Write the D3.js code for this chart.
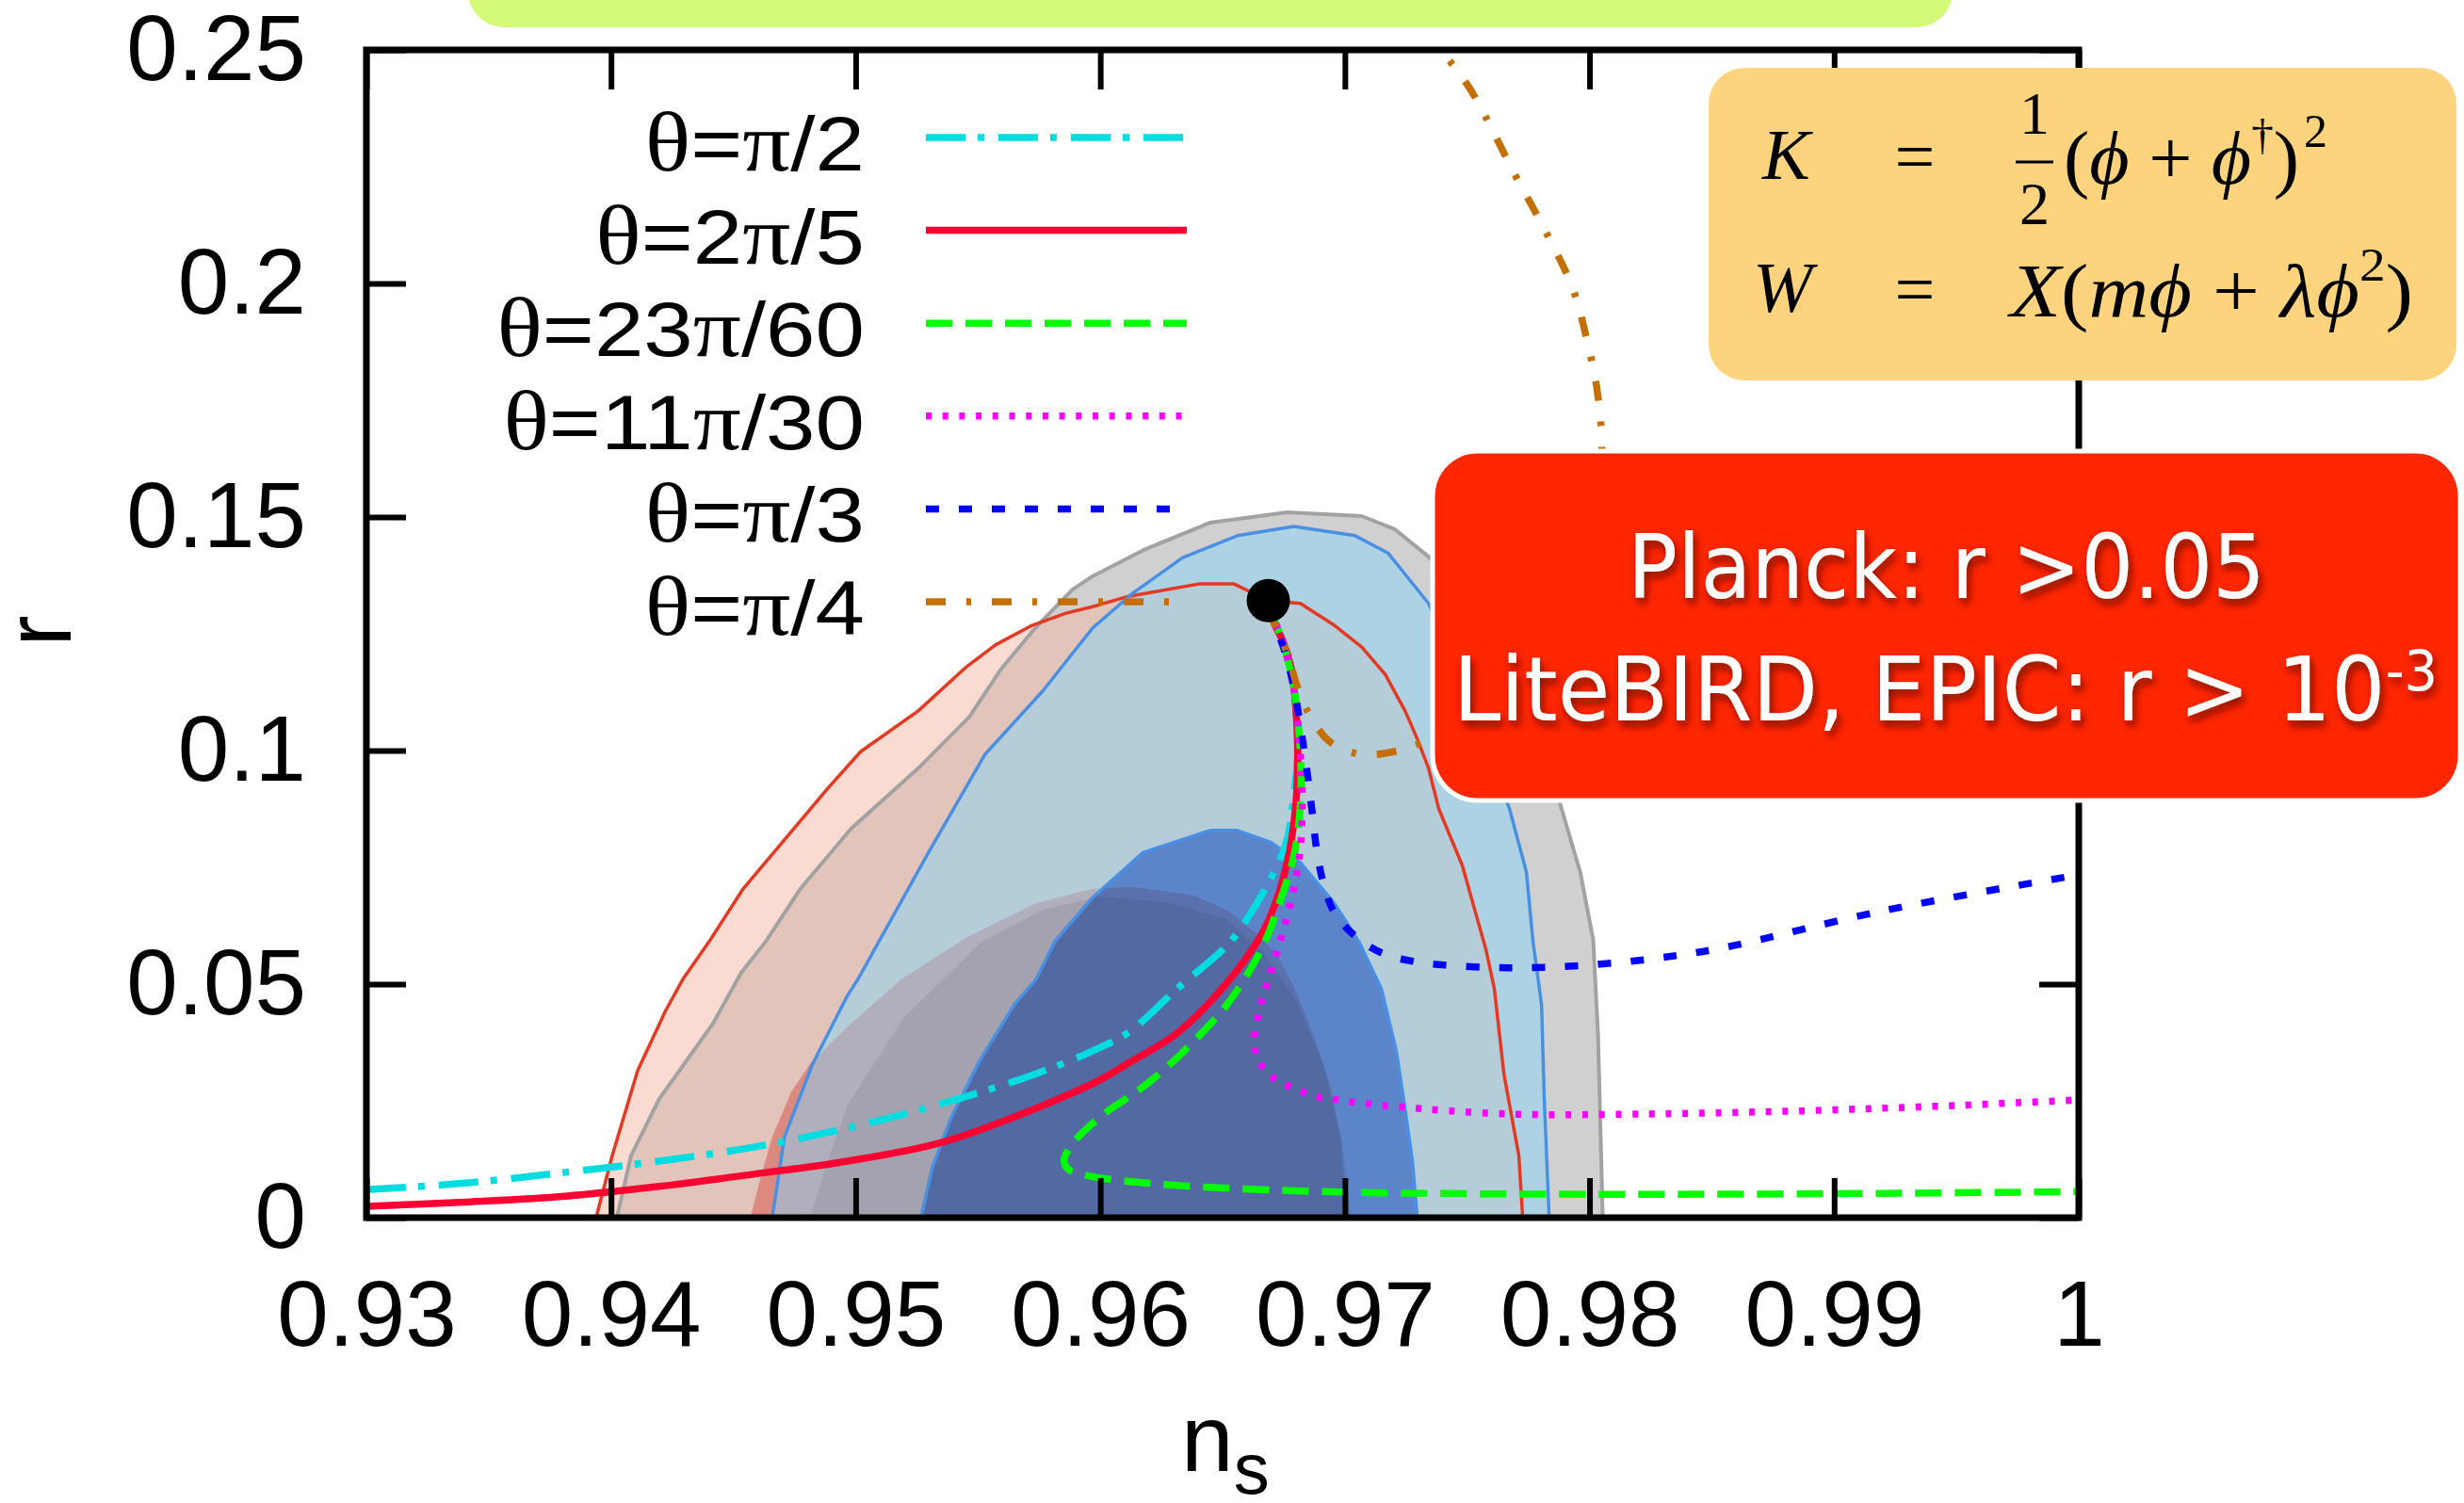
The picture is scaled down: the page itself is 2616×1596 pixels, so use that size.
<!DOCTYPE html>
<html>
<head>
<meta charset="utf-8">
<script src="https://cdn.jsdelivr.net/npm/d3@7"></script>
<style>
  body { margin: 0; background: #fff; }
  svg { display: block; }
</style>
</head>
<body>
<div id="chart"></div>
<script>
// ticks
var xTicks = [0.93, 0.94, 0.95, 0.96, 0.97, 0.98, 0.99, 1.0];
var xTickLabels = ['0.93', '0.94', '0.95', '0.96', '0.97', '0.98', '0.99', '1'];
var yTicks = [0, 0.05, 0.1, 0.15, 0.2, 0.25];
var yTickLabels = ['0', '0.05', '0.1', '0.15', '0.2', '0.25'];

// Planck contours, [n_s, r]
var grey95 = [[0.94024,0],[0.94082,0.0133],[0.94197,0.0254],[0.94416,0.0415],[0.94532,0.0524],[0.94632,0.0591],
  [0.94774,0.0704],[0.94982,0.0833],[0.95256,0.0962],[0.95463,0.1071],[0.95598,0.1177],[0.95737,0.1264],
  [0.95887,0.1345],[0.95968,0.1373],[0.96176,0.1429],[0.96449,0.1488],[0.96764,0.1510],[0.97069,0.1502],
  [0.97203,0.1474],[0.97342,0.1415],[0.97584,0.1276],[0.97758,0.1075],[0.97877,0.0891],[0.97962,0.0740],
  [0.98015,0.0595],[0.98035,0.0389],[0.98054,0]];
var red95 = [[0.93939,0],[0.94005,0.0133],[0.94109,0.0315],[0.94224,0.0444],[0.94293,0.0510],[0.94401,0.0591],
  [0.94540,0.0704],[0.94886,0.0919],[0.95021,0.0998],[0.95256,0.1085],[0.95448,0.1177],[0.95571,0.1226],
  [0.95721,0.1268],[0.95860,0.1294],[0.95968,0.1308],[0.96106,0.1329],[0.96406,0.1357],[0.96545,0.1357],
  [0.96687,0.1321],[0.96818,0.1315],[0.96957,0.1268],[0.97068,0.1222],[0.97165,0.1163],[0.97246,0.1085],
  [0.97300,0.1020],[0.97342,0.0962],[0.97384,0.0875],[0.97480,0.0754],[0.97577,0.0573],[0.97611,0.0490],
  [0.97650,0.0308],[0.97711,0.0133],[0.97727,0]];
var red68 = [[0.94570,0],[0.94609,0.0081],[0.94659,0.0173],[0.94736,0.0268],[0.94813,0.0329],[0.94967,0.0409],
  [0.95186,0.0510],[0.95463,0.0603],[0.95737,0.0673],[0.95968,0.0704],[0.96133,0.0708],[0.96380,0.0690],
  [0.96518,0.0659],[0.96641,0.0607],[0.96726,0.0560],[0.96795,0.0490],[0.96872,0.0389],[0.96938,0.0288],
  [0.96984,0.0167],[0.97007,0]];
var grey68 = [[0.94813,0],[0.94890,0.0127],[0.94967,0.0242],[0.95198,0.0429],[0.95517,0.0591],[0.95775,0.0661],
  [0.96006,0.0688],[0.96276,0.0675],[0.96507,0.0641],[0.96661,0.0571],[0.96795,0.0470],[0.96911,0.0329],
  [0.96988,0.0167],[0.97026,0]];
var blue95 = [[0.94659,0],[0.94709,0.0173],[0.94824,0.0329],[0.94967,0.0476],[0.95009,0.0510],[0.95298,0.0782],
  [0.95529,0.0992],[0.95764,0.1127],[0.95968,0.1262],[0.96133,0.1337],[0.96337,0.1413],[0.96560,0.1460],
  [0.96791,0.1480],[0.97042,0.1460],[0.97176,0.1423],[0.97342,0.1315],[0.97507,0.1115],[0.97673,0.0875],
  [0.97742,0.0740],[0.97769,0.0591],[0.97804,0.0456],[0.97815,0.0254],[0.97835,0]];
var blue68 = [[0.95267,0],[0.95313,0.0107],[0.95390,0.0214],[0.95506,0.0335],[0.95648,0.0456],[0.95737,0.0510],
  [0.95814,0.0591],[0.95968,0.0685],[0.96176,0.0782],[0.96449,0.0829],[0.96560,0.0829],[0.96695,0.0804],
  [0.96818,0.0760],[0.96957,0.0673],[0.97057,0.0591],[0.97149,0.0490],[0.97211,0.0355],[0.97249,0.0222],
  [0.97276,0.0121],[0.97296,0]];

// model tracks
var seriesNames = ['θ=π/2', 'θ=2π/5', 'θ=23π/60', 'θ=11π/30', 'θ=π/3', 'θ=π/4'];
var thetaPi2 = [[0.93,0.0060],[0.93427,0.0075],[0.93812,0.0097],[0.94197,0.0121],[0.94582,0.0151],[0.94967,0.0192],
  [0.95352,0.0244],[0.95737,0.0308],[0.95995,0.0363],[0.96122,0.0399],[0.96314,0.0490],[0.96507,0.0577],
  [0.96571,0.0617],[0.96695,0.0724],[0.96764,0.0810],[0.96791,0.0905],[0.96807,0.0992],[0.96799,0.1093],
  [0.96776,0.1185],[0.96737,0.1246],[0.96687,0.1304]];
var theta2Pi5 = [[0.93,0.0024],[0.93427,0.0034],[0.93812,0.0046],[0.94197,0.0067],[0.94582,0.0093],[0.94967,0.0121],
  [0.95352,0.0161],[0.95737,0.0234],[0.95995,0.0294],[0.96122,0.0333],[0.96314,0.0395],[0.96507,0.0496],
  [0.96634,0.0585],[0.96695,0.0645],[0.96764,0.0760],[0.96799,0.0883],[0.96807,0.0992],[0.96799,0.1093],
  [0.96780,0.1177],[0.96745,0.1236],[0.96718,0.1264],[0.96687,0.1304]];
var theta23Pi60 = [[0.96687,0.1304],[0.96737,0.1246],[0.96791,0.1135],[0.96818,0.0992],[0.96818,0.0883],
  [0.96791,0.0774],[0.96737,0.0681],[0.96657,0.0573],[0.96518,0.0456],[0.96403,0.0389],[0.96287,0.0329],
  [0.96160,0.0274],[0.95995,0.0214],[0.95879,0.0153],[0.95852,0.0121],[0.95871,0.0103],[0.95941,0.0091],
  [0.96056,0.0081],[0.96380,0.0067],[0.96891,0.0056],[0.97342,0.0052],[0.98173,0.0050],[0.99201,0.0052],[1.0,0.0056]];
var theta11Pi30 = [[0.96687,0.1304],[0.96737,0.1246],[0.96791,0.1135],[0.96818,0.0992],[0.96826,0.0883],
  [0.96814,0.0774],[0.96780,0.0681],[0.96737,0.0595],[0.96687,0.0510],[0.96649,0.0444],[0.96630,0.0369],
  [0.96645,0.0339],[0.96687,0.0308],[0.96745,0.0288],[0.96864,0.0262],[0.96999,0.0250],[0.97207,0.0238],
  [0.97661,0.0222],[0.98239,0.0222],[0.98816,0.0228],[0.99393,0.0238],[1.0,0.0252]];
var thetaPi3 = [[0.96687,0.1304],[0.96753,0.1214],[0.96791,0.1135],[0.96834,0.0998],[0.96868,0.0861],[0.96884,0.0790],
  [0.96911,0.0718],[0.96957,0.0653],[0.97042,0.0603],[0.97149,0.0567],[0.97288,0.0548],[0.97573,0.0536],
  [0.97815,0.0536],[0.98112,0.0546],[0.98366,0.0562],[0.98566,0.0580],[0.99209,0.0658],[1.0,0.0734]];
var thetaPi4 = [[0.96687,0.1304],[0.96718,0.1264],[0.96764,0.1208],[0.96807,0.1135],[0.96861,0.1071],[0.96945,0.1016],
  [0.97069,0.0992],[0.97203,0.0998],[0.97330,0.1020],[0.97507,0.1065],[0.97738,0.1175],[0.97931,0.1337],
  [0.98027,0.1498],[0.98050,0.1653],[0.98031,0.1772],[0.97992,0.1873],[0.97931,0.1990],[0.97811,0.2121],
  [0.97692,0.2236],[0.97573,0.2359],[0.97496,0.2429],[0.97330,0.2540]];
var startPoint = [0.96687, 0.1321];

var tracks = [thetaPi2, theta2Pi5, theta23Pi60, theta11Pi30, thetaPi3, thetaPi4];
var trackColors = ['#00dce0', '#ff0033', '#00ff00', '#ff00ff', '#0000ff', '#c46f00'];
var trackDashes = ['42,13,7,15', null, '28,14', '6,11.7', '14,21', '21,22,5,22'];

var width = 2616, height = 1596;
var plotL = 389, plotR = 2207, plotT = 53, plotB = 1293;
var sansFont = "'Liberation Sans', Arial, Helvetica, sans-serif";
var serifFont = "'Liberation Serif', 'DejaVu Serif', serif";

var svg = d3.select('#chart').append('svg')
  .attr('width', width)
  .attr('height', height);

var x = d3.scaleLinear().domain([0.93, 1]).range([plotL, plotR]);
var y = d3.scaleLinear().domain([0, 0.25]).range([plotB, plotT]);

var defs = svg.append('defs');
defs.append('clipPath').attr('id', 'plotClip')
  .append('rect').attr('x', plotL).attr('y', plotT)
  .attr('width', plotR - plotL).attr('height', plotB - plotT);
var shadow = defs.append('filter').attr('id', 'txtShadow')
  .attr('x', '-10%').attr('y', '-30%').attr('width', '120%').attr('height', '160%');
shadow.append('feDropShadow')
  .attr('dx', 3).attr('dy', 6).attr('stdDeviation', 4)
  .attr('flood-color', '#6a0800').attr('flood-opacity', 0.85);

// green banner at the very top
svg.append('rect')
  .attr('x', 497).attr('y', -60).attr('width', 1576).attr('height', 89)
  .attr('rx', 38).attr('fill', '#d5fa7a');

var plot = svg.append('g').attr('clip-path', 'url(#plotClip)');

var area = d3.line().x(function(d) { return x(d[0]); }).y(function(d) { return y(d[1]); });
var smooth = d3.line()
  .x(function(d) { return x(d[0]); })
  .y(function(d) { return y(d[1]); })
  .curve(d3.curveCatmullRom.alpha(0.5));

function fillContour(pts, fill, blend) {
  var p = plot.append('path')
    .attr('d', area(pts) + 'Z')
    .attr('fill', fill)
    .attr('stroke', 'none');
  if (blend) p.style('mix-blend-mode', blend);
}

fillContour(grey95, '#d0d0d0');
fillContour(red95, 'rgba(243,184,167,0.51)');
fillContour(red68, '#dc8a80');
fillContour(blue95, 'rgba(136,212,248,0.5)');
fillContour(grey68, '#e9ecec', 'multiply');
fillContour(blue68, '#81a5ec', 'multiply');

function edge(pts, color, w) {
  plot.append('path')
    .attr('d', area(pts))
    .attr('fill', 'none')
    .attr('stroke', color)
    .attr('stroke-width', w)
    .attr('stroke-linejoin', 'round');
}
edge(grey95, '#a2a2a2', 4);
edge(red95, '#e43a24', 3.5);
edge(blue95, '#4a90e2', 3.5);
edge(blue68, '#4a90e2', 3.5);

tracks.forEach(function(t, i) {
  var p = plot.append('path')
    .attr('d', smooth(t))
    .attr('fill', 'none')
    .attr('stroke', trackColors[i])
    .attr('stroke-width', 7.5);
  if (trackDashes[i]) p.attr('stroke-dasharray', trackDashes[i]);
});

plot.append('circle')
  .attr('cx', x(startPoint[0]))
  .attr('cy', y(startPoint[1]))
  .attr('r', 23)
  .attr('fill', '#000');

// axes, ticks pointing inwards
function styleAxis(g) {
  g.select('.domain').remove();
  g.selectAll('.tick line').attr('stroke', '#000').attr('stroke-width', 6);
  g.selectAll('.tick text')
    .attr('fill', '#000')
    .style('font-family', sansFont)
    .style('font-size', '98px');
}

svg.append('g')
  .attr('transform', 'translate(0,' + plotB + ')')
  .call(d3.axisBottom(x).tickValues(xTicks)
    .tickFormat(function(d, i) { return xTickLabels[i]; })
    .tickSizeInner(-42).tickSizeOuter(0).tickPadding(66))
  .call(styleAxis);

svg.append('g')
  .attr('transform', 'translate(' + plotL + ',0)')
  .call(d3.axisLeft(y).tickValues(yTicks)
    .tickFormat(function(d, i) { return yTickLabels[i]; })
    .tickSizeInner(-42).tickSizeOuter(0).tickPadding(64))
  .call(styleAxis);

svg.append('g')
  .attr('transform', 'translate(0,' + plotT + ')')
  .call(d3.axisTop(x).tickValues(xTicks).tickFormat('').tickSizeInner(-42).tickSizeOuter(0))
  .call(styleAxis);

svg.append('g')
  .attr('transform', 'translate(' + plotR + ',0)')
  .call(d3.axisRight(y).tickValues(yTicks).tickFormat('').tickSizeInner(-42).tickSizeOuter(0))
  .call(styleAxis);

svg.append('rect')
  .attr('x', plotL).attr('y', plotT)
  .attr('width', plotR - plotL).attr('height', plotB - plotT)
  .attr('fill', 'none').attr('stroke', '#000').attr('stroke-width', 7);

// axis titles
svg.append('text')
  .attr('transform', 'translate(75,670) rotate(-90)')
  .attr('text-anchor', 'middle')
  .style('font-family', sansFont).style('font-size', '100px')
  .text('r');

var xt = svg.append('text')
  .attr('x', 1254).attr('y', 1562)
  .style('font-family', sansFont).style('font-size', '100px');
xt.append('tspan').text('n');
xt.append('tspan').attr('dy', 24).style('font-size', '76px').text('s');

// legend
var legend = svg.append('g');
seriesNames.forEach(function(name, i) {
  var base = 181 + i * 98.6;
  var t = legend.append('text')
    .attr('transform', 'translate(918,' + base + ') scale(1.15,1)')
    .attr('text-anchor', 'end')
    .style('font-family', sansFont)
    .style('font-size', '82px');
  name.split(/([θπ])/).forEach(function(part) {
    if (!part) return;
    var isGreek = part === 'θ' || part === 'π';
    t.append('tspan')
      .style('font-family', isGreek ? serifFont : sansFont)
      .style('font-size', isGreek ? '88px' : '82px')
      .text(part);
  });
  var ln = legend.append('line')
    .attr('x1', 983).attr('x2', 1260)
    .attr('y1', base - 35).attr('y2', base - 35)
    .attr('stroke', trackColors[i])
    .attr('stroke-width', 7.5);
  if (trackDashes[i]) ln.attr('stroke-dasharray', trackDashes[i]);
});

// formula box
var fb = svg.append('g');
fb.append('rect')
  .attr('x', 1814).attr('y', 72).attr('width', 794).attr('height', 332)
  .attr('rx', 38).attr('fill', '#fdd47d');

function mathText(xp, yp, size, anchor) {
  return fb.append('text')
    .attr('x', xp).attr('y', yp)
    .attr('text-anchor', anchor || 'start')
    .style('font-family', serifFont)
    .style('font-size', size + 'px');
}
function run(t, str, opts) {
  opts = opts || {};
  var s = t.append('tspan').text(str);
  if (opts.italic) s.style('font-style', 'italic');
  if (opts.size) s.style('font-size', opts.size + 'px');
  if (opts.dy) s.attr('dy', opts.dy);
  return s;
}
run(mathText(1871, 190, 76), 'K', { italic: true });
run(mathText(2033, 192, 76, 'middle'), '=');
run(mathText(2160, 142, 64, 'middle'), '1');
fb.append('line').attr('x1', 2140).attr('x2', 2180).attr('y1', 172).attr('y2', 172)
  .attr('stroke', '#000').attr('stroke-width', 3);
run(mathText(2160, 238, 64, 'middle'), '2');
var k1 = mathText(2191, 195, 80)
  .attr('textLength', 250).attr('lengthAdjust', 'spacingAndGlyphs');
run(k1, '(');
run(k1, 'ϕ', { italic: true });
run(k1, ' + ');
run(k1, 'ϕ', { italic: true });
run(k1, '†', { size: 46, dy: -36 });
run(k1, ')', { dy: 36 });
run(mathText(2446, 156, 50), '2');

run(mathText(1861, 331, 76), 'W', { italic: true });
run(mathText(2033, 333, 76, 'middle'), '=');
var w1 = mathText(2134, 336, 80)
  .attr('textLength', 428).attr('lengthAdjust', 'spacingAndGlyphs');
run(w1, 'X', { italic: true });
run(w1, '(');
run(w1, 'mϕ', { italic: true });
run(w1, ' + ');
run(w1, 'λϕ', { italic: true });
run(w1, '2', { size: 50, dy: -38 });
run(w1, ')', { dy: 38 });

// red box
var rb = svg.append('g');
rb.append('rect')
  .attr('x', 1521).attr('y', 479).attr('width', 1091).attr('height', 371)
  .attr('rx', 48).attr('fill', '#ff2600')
  .attr('stroke', '#fff').attr('stroke-width', 5);

var boxFont = "'DejaVu Sans', sans-serif";
rb.append('text')
  .attr('x', 1728).attr('y', 635)
  .attr('textLength', 677).attr('lengthAdjust', 'spacingAndGlyphs')
  .attr('fill', '#fff').attr('filter', 'url(#txtShadow)')
  .style('font-family', boxFont).style('font-size', '94px')
  .text('Planck: r >0.05');
var lb = rb.append('text')
  .attr('x', 1543).attr('y', 765)
  .attr('textLength', 1045).attr('lengthAdjust', 'spacingAndGlyphs')
  .attr('fill', '#fff').attr('filter', 'url(#txtShadow)')
  .style('font-family', boxFont).style('font-size', '94px');
lb.append('tspan').text('LiteBIRD, EPIC: r > 10');
lb.append('tspan').attr('dy', -32).style('font-size', '58px').text('-3');
</script>
</body>
</html>
